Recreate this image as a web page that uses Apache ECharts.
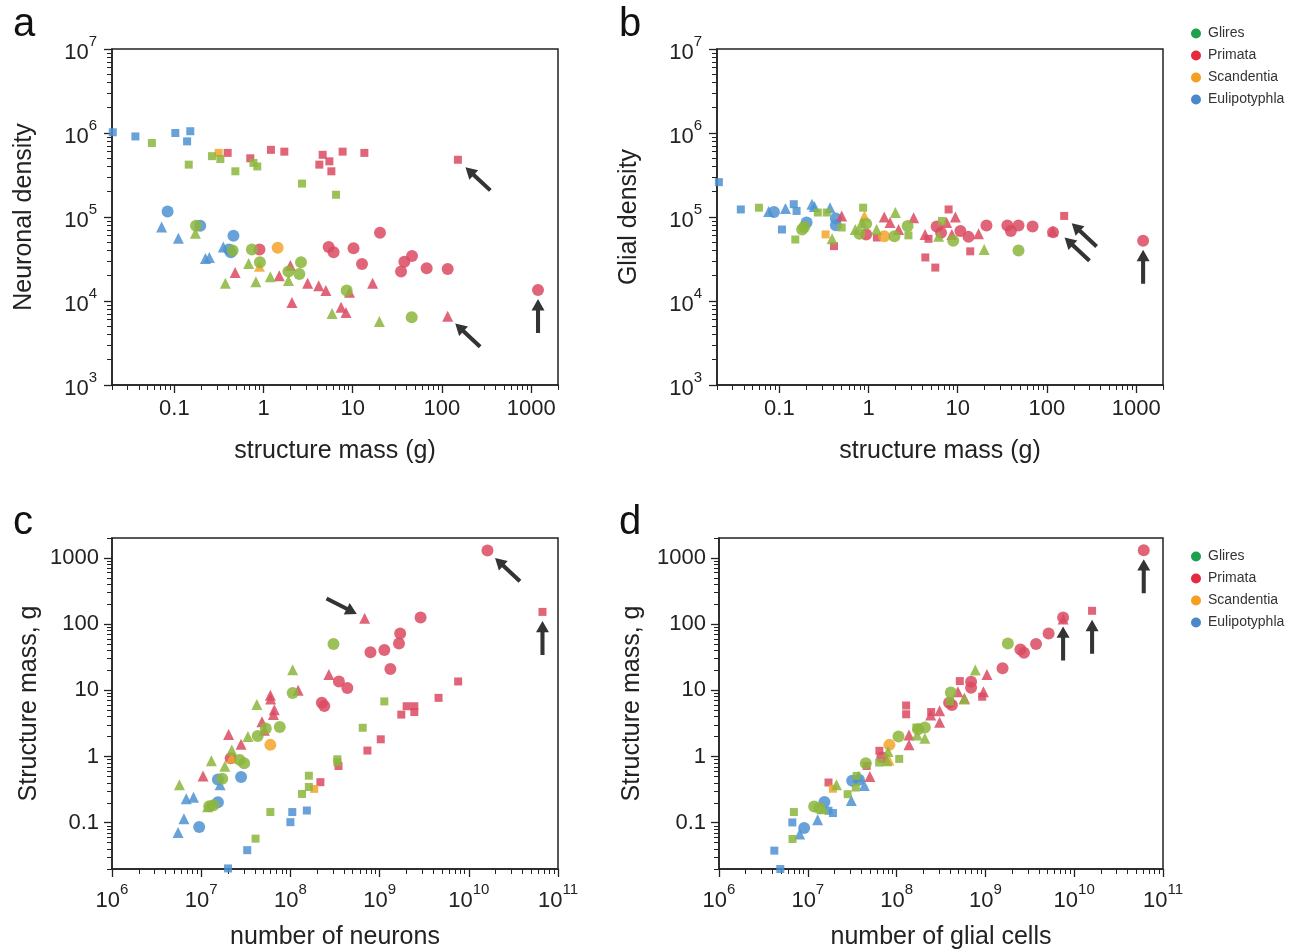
<!DOCTYPE html>
<html><head><meta charset="utf-8">
<script src="https://cdn.jsdelivr.net/npm/echarts@6/dist/echarts.min.js"></script>
<style>html,body{margin:0;padding:0;background:#fff}#c{width:1302px;height:949px}</style>
</head><body><div id="c"></div>
<script>
// ---------- DATA ----------
// Panel a: structure mass (g) vs neuronal density
const aGliresSquares = [[0.056,7.6e5],[0.145,4.2e5],[0.264,5.3e5],[0.328,4.9e5],[0.483,3.5e5],[0.77,4.4e5],[0.85,4.0e5],[2.7,2.5e5],[6.5,1.84e5]];
const aGliresCircles = [[0.175,7.85e4],[0.45,4.0e4],[0.74,4.1e4],[0.91,2.9e4],[1.9,2.24e4],[2.63,2.9e4],[2.52,2.1e4],[8.55,1.33e4],[45.8,6.4e3]];
const aGliresTriangles = [[0.172,6.4e4],[0.373,1.63e4],[0.68,2.8e4],[0.82,1.7e4],[1.19,1.95e4],[1.9,1.75e4],[5.86,7.1e3],[19.9,5.7e3]];
const aPrimataSquares = [[0.396,5.8e5],[0.71,5.0e5],[1.21,6.3e5],[1.71,6.0e5],[4.22,4.2e5],[4.6,5.5e5],[5.47,4.6e5],[5.76,3.5e5],[7.7,6.0e5],[13.5,5.8e5],[151,4.8e5]];
const aPrimataCircles = [[0.9,4.1e4],[5.37,4.4e4],[6.1,3.8e4],[10.2,4.25e4],[12.7,2.76e4],[20.2,6.5e4],[34.8,2.24e4],[37.9,2.94e4],[46.2,3.44e4],[67.4,2.45e4],[116,2.41e4],[1194,1.35e4]];
const aPrimataTriangles = [[0.48,2.18e4],[1.5,2.0e4],[2.0,2.64e4],[2.08,9.6e3],[3.12,1.63e4],[4.15,1.52e4],[5.0,1.33e4],[7.4,8.4e3],[8.4,7.3e3],[9.2,1.27e4],[16.7,1.63e4],[116,6.6e3]];
const aScandentiaSquares = [[0.314,5.8e5]];
const aScandentiaCircles = [[1.44,4.3e4]];
const aScandentiaTriangles = [[0.9,2.6e4]];
const aEulipotyphlaSquares = [[0.0204,1.02e6],[0.0366,9.1e5],[0.1026,1.0e6],[0.139,7.95e5],[0.151,1.05e6]];
const aEulipotyphlaCircles = [[0.084,1.16e5],[0.195,7.85e4],[0.46,6.0e4],[0.41,4.1e4],[0.43,3.8e4]];
const aEulipotyphlaTriangles = [[0.072,7.6e4],[0.111,5.6e4],[0.223,3.2e4],[0.247,3.3e4],[0.354,4.4e4]];

// Panel b: structure mass (g) vs glial density
const bGliresSquares = [[0.059,1.29e5],[0.151,5.4e4],[0.27,1.13e5],[0.34,1.13e5],[0.5,7.5e4],[0.87,1.29e5],[2.8,6.05e4],[6.65,8.96e4]];
const bGliresCircles = [[0.18,7.1e4],[0.19,7.6e4],[0.79,6.3e4],[0.94,8.3e4],[1.95,5.9e4],[2.74,7.8e4],[8.9,5.2e4],[48,4.0e4]];
const bGliresTriangles = [[0.39,5.5e4],[0.71,7.1e4],[0.84,8.6e4],[1.23,7.1e4],[2.0,1.13e5],[6.1,5.9e4],[19.8,4.1e4]];
const bPrimataSquares = [[0.41,4.5e4],[1.24,5.7e4],[4.33,3.3e4],[4.7,5.5e4],[5.6,2.5e4],[7.9,1.23e5],[13.8,3.9e4],[156,1.03e5]];
const bPrimataCircles = [[0.94,6.2e4],[5.8,7.7e4],[6.5,6.5e4],[10.7,6.8e4],[13.2,5.8e4],[21,7.9e4],[36,7.9e4],[39.4,6.8e4],[48,7.9e4],[69,7.7e4],[117,6.6e4],[1197,5.2e4]];
const bPrimataTriangles = [[0.5,1.03e5],[1.5,1.0e5],[1.74,8.6e4],[2.17,7.1e4],[3.2,9.8e4],[4.3,6.2e4],[7.5,8.6e4],[9.4,1.0e5],[8.6,6.2e4],[17.1,6.3e4],[116,6.8e4]];
const bScandentiaSquares = [[0.33,6.2e4]];
const bScandentiaCircles = [[1.5,5.9e4]];
const bScandentiaTriangles = [[0.9,1.03e5]];
const bEulipotyphlaSquares = [[0.021,2.6e5],[0.037,1.23e5],[0.107,7.1e4],[0.145,1.42e5],[0.156,1.18e5]];
const bEulipotyphlaCircles = [[0.087,1.15e5],[0.202,8.6e4],[0.43,9.6e4],[0.43,7.96e4]];
const bEulipotyphlaTriangles = [[0.076,1.16e5],[0.117,1.26e5],[0.232,1.42e5],[0.247,1.33e5],[0.37,1.29e5]];

// Panel c: number of neurons vs structure mass (g)
const cGliresSquares = [[4.07e7,0.0575],[5.96e7,0.145],[1.35e8,0.272],[1.61e8,0.513],[1.61e8,0.347],[3.36e8,0.91],[3.36e8,0.82],[6.47e8,2.72],[1.13e9,6.8]];
const cGliresCircles = [[3.04e8,50],[1.06e8,9.1],[7.6e7,2.8],[5.3e7,2.66],[4.3e7,2.04],[3.03e7,0.79],[2.7e7,0.89],[1.72e7,0.46],[1.37e7,0.184],[1.23e7,0.178]];
const cGliresTriangles = [[1.06e8,20.4],[4.2e7,6.1],[3.34e7,2.0],[2.2e7,1.26],[1.84e7,0.71],[1.3e7,0.86],[5.7e6,0.376],[1.18e7,0.174]];
const cPrimataSquares = [[2.17e8,0.41],[3.46e8,0.72],[7.3e8,1.23],[1.03e9,1.82],[1.75e9,4.3],[2.01e9,5.75],[2.45e9,5.75],[2.45e9,4.7],[4.58e9,7.7],[7.6e9,13.6],[6.7e10,153]];
const cPrimataCircles = [[1.62e10,1290],[2.88e9,126],[1.7e9,72],[1.65e9,51],[1.13e9,40.7],[7.9e8,37.6],[1.32e9,21],[3.5e8,13.6],[4.35e8,10.8],[2.25e8,6.5],[2.4e8,5.8],[2.14e7,0.94]];
const cPrimataTriangles = [[6.8e8,123],[2.7e8,17.4],[1.22e8,10],[5.96e7,8.4],[6.0e7,7.4],[6.6e7,5.1],[6.45e7,4.3],[4.8e7,3.35],[5.1e7,2.5],[2.03e7,2.16],[2.8e7,1.53],[1.05e7,0.51]];
const cScandentiaSquares = [[1.85e8,0.324]];
const cScandentiaCircles = [[5.96e7,1.5]];
const cScandentiaTriangles = [[2.2e7,0.95]];
const cEulipotyphlaSquares = [[2.0e7,0.0204],[3.28e7,0.0385],[1.0e8,0.102],[1.05e8,0.145],[1.53e8,0.153]];
const cEulipotyphlaCircles = [[1.54e7,0.45],[2.8e7,0.49],[1.54e7,0.204],[9.5e6,0.086]];
const cEulipotyphlaTriangles = [[5.5e6,0.071],[6.4e6,0.115],[6.8e6,0.23],[8.2e6,0.243],[1.63e7,0.376]];

// Panel d: number of glial cells vs structure mass (g)
const dGliresSquares = [[6.97e6,0.145],[6.73e6,0.0568],[2.81e7,0.27],[3.47e7,0.34],[3.55e7,0.51],[1.07e8,0.92],[6.36e7,0.81],[1.67e8,2.74],[4.0e8,6.8]];
const dGliresCircles = [[1.79e9,51],[4.08e8,9.3],[2.08e8,2.74],[1.75e8,2.58],[1.05e8,2.0],[4.5e7,0.79],[1.18e7,0.176],[1.35e7,0.166]];
const dGliresTriangles = [[7.7e8,20.3],[2.08e8,1.89],[1.7e8,2.12],[7.8e7,0.86],[8.0e7,1.19],[2.1e7,0.374],[1.49e7,0.163],[5.8e8,7.4]];
const dPrimataSquares = [[1.59e10,159],[5.15e8,13.8],[1.28e8,5.9],[1.28e8,4.35],[9.2e8,8.0],[6.4e7,1.22],[1.71e7,0.405],[4.6e7,0.72],[2.45e8,4.7]];
const dPrimataCircles = [[6.07e10,1306],[7.5e9,126],[5.15e9,72],[3.72e9,50],[2.48e9,41.5],[2.72e9,37],[1.56e9,21.5],[6.9e8,13.5],[6.9e8,10.9],[3.9e8,6.5],[4.2e8,6.0],[6.9e7,0.97]];
const dPrimataTriangles = [[7.5e9,120],[1.04e9,17.4],[9.5e8,9.5],[4.9e8,9.5],[5.8e8,7.6],[3.05e8,4.9],[3.05e8,3.3],[2.42e8,4.25],[1.38e8,2.12],[1.38e8,1.5],[5.0e7,0.5]];
const dScandentiaSquares = [[1.92e7,0.326]];
const dScandentiaCircles = [[8.3e7,1.5]];
const dScandentiaTriangles = [[8.2e7,0.89]];
const dEulipotyphlaSquares = [[4.2e6,0.0379],[4.9e6,0.02],[6.7e6,0.101],[1.71e7,0.152],[1.92e7,0.14]];
const dEulipotyphlaCircles = [[3.16e7,0.43],[3.77e7,0.445],[1.54e7,0.205],[9.1e6,0.083]];
const dEulipotyphlaTriangles = [[3.09e7,0.217],[4.33e7,0.366],[1.29e7,0.111],[8.1e6,0.0675],[3.7e7,0.5]];

// Axis ranges
const massRangeAB = [0.02, 2000];
const densityRange = [1e3, 1e7];
const cellRange = [1e6, 1e11];
const massRangeCD = [0.02, 2000];

const groups = ['Glires','Primata','Scandentia','Eulipotyphla'];
const pointColors = {Glires:'#8cb63c', Primata:'#da4a62', Scandentia:'#f5a52a', Eulipotyphla:'#4d92d2'};
const legendColors = {Glires:'#1fa04a', Primata:'#e42a3e', Scandentia:'#f59e1f', Eulipotyphla:'#4b87c9'};

const panelData = {
  a:{Glires:[aGliresSquares,aGliresCircles,aGliresTriangles],Primata:[aPrimataSquares,aPrimataCircles,aPrimataTriangles],Scandentia:[aScandentiaSquares,aScandentiaCircles,aScandentiaTriangles],Eulipotyphla:[aEulipotyphlaSquares,aEulipotyphlaCircles,aEulipotyphlaTriangles]},
  b:{Glires:[bGliresSquares,bGliresCircles,bGliresTriangles],Primata:[bPrimataSquares,bPrimataCircles,bPrimataTriangles],Scandentia:[bScandentiaSquares,bScandentiaCircles,bScandentiaTriangles],Eulipotyphla:[bEulipotyphlaSquares,bEulipotyphlaCircles,bEulipotyphlaTriangles]},
  c:{Glires:[cGliresSquares,cGliresCircles,cGliresTriangles],Primata:[cPrimataSquares,cPrimataCircles,cPrimataTriangles],Scandentia:[cScandentiaSquares,cScandentiaCircles,cScandentiaTriangles],Eulipotyphla:[cEulipotyphlaSquares,cEulipotyphlaCircles,cEulipotyphlaTriangles]},
  d:{Glires:[dGliresSquares,dGliresCircles,dGliresTriangles],Primata:[dPrimataSquares,dPrimataCircles,dPrimataTriangles],Scandentia:[dScandentiaSquares,dScandentiaCircles,dScandentiaTriangles],Eulipotyphla:[dEulipotyphlaSquares,dEulipotyphlaCircles,dEulipotyphlaTriangles]}
};

// arrows: [target point, direction]
const arrows = {
  a:[[aPrimataSquares[10],'nw'],[aPrimataTriangles[11],'nw'],[aPrimataCircles[11],'up']],
  b:[[bPrimataSquares[7],'nw'],[bPrimataCircles[10],'nw2'],[bPrimataCircles[11],'up']],
  c:[[cPrimataCircles[0],'nw'],[cPrimataTriangles[0],'se'],[cPrimataSquares[10],'up']],
  d:[[dPrimataCircles[0],'up'],[dPrimataCircles[1],'up'],[dPrimataSquares[0],'up']]
};

// ---------- CHART ----------
const FONT = '"Liberation Sans", Arial, Helvetica, sans-serif';
const INK = '#222';
const L = Math.log10;

function majors(r){const o=[];for(let n=Math.ceil(L(r[0])-1e-9);n<=Math.floor(L(r[1])+1e-9);n++)o.push(n);return o;}
function minors(r){const o=[];for(let n=Math.floor(L(r[0]))-1;n<=Math.ceil(L(r[1]));n++){for(let k=2;k<=9;k++){const v=L(k)+n;if(v>=L(r[0])-1e-9&&v<=L(r[1])+1e-9)o.push(v);}}return o;}

const powRich = {b:{fontSize:22,fontFamily:FONT,color:INK,lineHeight:30,verticalAlign:'bottom'},s:{fontSize:15,fontFamily:FONT,color:INK,lineHeight:15,verticalAlign:'top'}};
const powFmt = v => '{b|10}{s|' + Math.round(v) + '}';
const plainFmt = v => { const x = Math.pow(10, Math.round(v)); return x < 1 ? x.toFixed(1) : String(Math.round(x)); };

const panels = [
  {key:'a', grid:{left:112, top:49, width:446, height:336}, xr:massRangeAB, yr:densityRange, xFmt:plainFmt, yFmt:powFmt, xName:'structure mass (g)', yName:'Neuronal density', xGap:54, yGap:75},
  {key:'b', grid:{left:717, top:49, width:446, height:336}, xr:massRangeAB, yr:densityRange, xFmt:plainFmt, yFmt:powFmt, xName:'structure mass (g)', yName:'Glial density', xGap:54, yGap:75},
  {key:'c', grid:{left:112, top:538, width:446, height:331}, xr:cellRange, yr:massRangeCD, xFmt:powFmt, yFmt:plainFmt, xName:'number of neurons', yName:'Structure mass, g', xGap:56, yGap:70},
  {key:'d', grid:{left:719, top:538, width:444, height:331}, xr:cellRange, yr:massRangeCD, xFmt:powFmt, yFmt:plainFmt, xName:'number of glial cells', yName:'Structure mass, g', xGap:56, yGap:74}
];

const grids=[], xAxes=[], yAxes=[], series=[];
const shapeDefs = [['rect',8],['circle',12],['triangle',11]];
const drawOrder = ['Eulipotyphla','Primata','Scandentia','Glires'];
const arrowPath = 'path://M0,12 L8,0 L16,12 L10.5,12 L10.5,36 L5.5,36 L5.5,12 Z';
const arrowStyle = {
  up:{rot:0, off:[0,26]},
  nw:{rot:47, off:[20,19]},
  nw2:{rot:47, off:[24,17]},
  se:{rot:-117, off:[-23,-12]}
};

panels.forEach((p, gi) => {
  grids.push(Object.assign({show:true, borderColor:INK, borderWidth:1.5, containLabel:false, outerBoundsMode:'none'}, p.grid));
  const xi = xAxes.length, yi = yAxes.length;
  const axisLineStyle = {color:INK, width:1.5};
  const nameStyle = {fontSize:25, fontFamily:FONT, color:INK};
  // data log axes (hidden)
  xAxes.push({gridIndex:gi, type:'log', logBase:10, min:p.xr[0], max:p.xr[1], show:false});
  yAxes.push({gridIndex:gi, type:'log', logBase:10, min:p.yr[0], max:p.yr[1], show:false});
  // decade ticks & labels, drawn on axes in log10 space aligned with the log axes
  const xLabelStyle = p.xFmt===powFmt ? {formatter:p.xFmt, rich:powRich, margin:13} : {formatter:p.xFmt, fontSize:22, fontFamily:FONT, color:INK, margin:13};
  const yLabelStyle = p.yFmt===powFmt ? {formatter:p.yFmt, rich:powRich, margin:15} : {formatter:p.yFmt, fontSize:22, fontFamily:FONT, color:INK, margin:13};
  xAxes.push({gridIndex:gi, type:'value', position:'bottom', min:L(p.xr[0]), max:L(p.xr[1]),
    axisLine:{show:true, onZero:false, lineStyle:axisLineStyle}, splitLine:{show:false},
    axisTick:{show:true, customValues:majors(p.xr), length:8, lineStyle:{color:INK, width:1.3}},
    axisLabel:Object.assign({show:true, customValues:majors(p.xr)}, xLabelStyle),
    name:p.xName, nameLocation:'middle', nameGap:p.xGap, nameTextStyle:nameStyle});
  xAxes.push({gridIndex:gi, type:'value', position:'bottom', min:L(p.xr[0]), max:L(p.xr[1]),
    axisLine:{show:false, onZero:false}, splitLine:{show:false}, axisLabel:{show:false},
    axisTick:{show:true, customValues:minors(p.xr), length:5, lineStyle:{color:INK, width:1}}});
  yAxes.push({gridIndex:gi, type:'value', position:'left', min:L(p.yr[0]), max:L(p.yr[1]),
    axisLine:{show:true, onZero:false, lineStyle:axisLineStyle}, splitLine:{show:false},
    axisTick:{show:true, customValues:majors(p.yr), length:8, lineStyle:{color:INK, width:1.3}},
    axisLabel:Object.assign({show:true, customValues:majors(p.yr)}, yLabelStyle),
    name:p.yName, nameLocation:'middle', nameGap:p.yGap, nameTextStyle:nameStyle});
  yAxes.push({gridIndex:gi, type:'value', position:'left', min:L(p.yr[0]), max:L(p.yr[1]),
    axisLine:{show:false, onZero:false}, splitLine:{show:false}, axisLabel:{show:false},
    axisTick:{show:true, customValues:minors(p.yr), length:5, lineStyle:{color:INK, width:1}}});

  drawOrder.forEach(g => {
    panelData[p.key][g].forEach((arr, si) => {
      series.push({type:'scatter', name:g, xAxisIndex:xi, yAxisIndex:yi, data:arr,
        symbol:shapeDefs[si][0], symbolSize:shapeDefs[si][1], clip:false,
        itemStyle:{color:pointColors[g], opacity:0.85}, emphasis:{disabled:true}});
    });
  });
  series.push({type:'scatter', name:'arrows-'+p.key, xAxisIndex:xi, yAxisIndex:yi, data:[], silent:true,
    markPoint:{silent:true, animation:false, label:{show:false},
      data:arrows[p.key].map(([pt, dir]) => ({coord:pt, symbol:arrowPath, symbolSize:[13,34],
        symbolRotate:arrowStyle[dir].rot, symbolOffset:arrowStyle[dir].off,
        itemStyle:{color:'#343434'}}))}});
});

const legendBase = {orient:'vertical', left:1186, icon:'circle', itemWidth:18, itemHeight:10, itemGap:7, selectedMode:false,
  textStyle:{fontSize:14, fontFamily:FONT, color:'#333', lineHeight:15, padding:[0,0,0,-2]},
  data:groups.map(g => ({name:g, itemStyle:{color:legendColors[g], opacity:1}}))};

const option = {
  animation:false,
  backgroundColor:'#fff',
  title:[
    {text:'a', left:8, top:0, textStyle:{fontSize:40, fontWeight:'normal', fontFamily:FONT, color:'#111'}},
    {text:'b', left:614, top:0, textStyle:{fontSize:40, fontWeight:'normal', fontFamily:FONT, color:'#111'}},
    {text:'c', left:8, top:498, textStyle:{fontSize:40, fontWeight:'normal', fontFamily:FONT, color:'#111'}},
    {text:'d', left:614, top:498, textStyle:{fontSize:40, fontWeight:'normal', fontFamily:FONT, color:'#111'}}
  ],
  legend:[Object.assign({top:21}, legendBase), Object.assign({top:544}, legendBase)],
  grid:grids, xAxis:xAxes, yAxis:yAxes, series:series
};

const chart = echarts.init(document.getElementById('c'), null, {renderer:'canvas'});
chart.setOption(option);
</script></body></html>
